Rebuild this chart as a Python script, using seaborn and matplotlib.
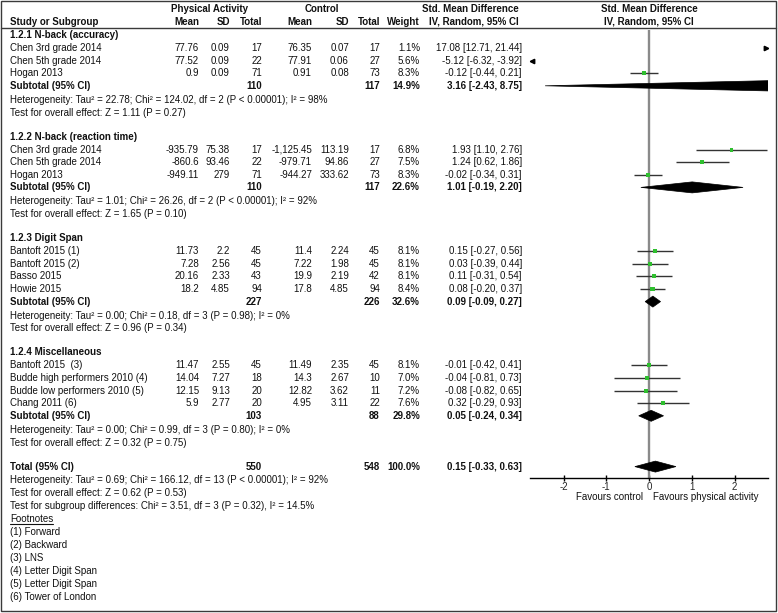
import numpy as np
import pandas as pd
import matplotlib
matplotlib.use("Agg")
import matplotlib.pyplot as plt
from matplotlib.patches import Polygon, Rectangle
import seaborn as sns

# ---------------- data ----------------
group_names = ["1.2.1 N-back (accuracy)", "1.2.2 N-back (reaction time)",
               "1.2.3 Digit Span", "1.2.4 Miscellaneous"]

study = ["Chen 3rd grade 2014", "Chen 5th grade 2014", "Hogan 2013",
         "Chen 3rd grade 2014", "Chen 5th grade 2014", "Hogan 2013",
         "Bantoft 2015 (1)", "Bantoft 2015 (2)", "Basso 2015", "Howie 2015",
         "Bantoft 2015  (3)", "Budde high performers 2010 (4)",
         "Budde low performers 2010 (5)", "Chang 2011 (6)"]
study_group = [0, 0, 0, 1, 1, 1, 2, 2, 2, 2, 3, 3, 3, 3]

pa_mean = [77.76, 77.52, 0.9, -935.79, -860.6, -949.11, 11.73, 7.28, 20.16, 18.2,
           11.47, 14.04, 12.15, 5.9]
pa_sd = [0.09, 0.09, 0.09, 75.38, 93.46, 279, 2.2, 2.56, 2.33, 4.85,
         2.55, 7.27, 9.13, 2.77]
pa_n = [17, 22, 71, 17, 22, 71, 45, 45, 43, 94, 45, 18, 20, 20]
ct_mean = [76.35, 77.91, 0.91, -1125.45, -979.71, -944.27, 11.4, 7.22, 19.9, 17.8,
           11.49, 14.3, 12.82, 4.95]
ct_sd = [0.07, 0.06, 0.08, 113.19, 94.86, 333.62, 2.24, 1.98, 2.19, 4.85,
         2.35, 2.67, 3.62, 3.11]
ct_n = [17, 27, 73, 17, 27, 73, 45, 45, 42, 94, 45, 10, 11, 22]
weight = [1.1, 5.6, 8.3, 6.8, 7.5, 8.3, 8.1, 8.1, 8.1, 8.4, 8.1, 7.0, 7.2, 7.6]
smd = [17.08, -5.12, -0.12, 1.93, 1.24, -0.02, 0.15, 0.03, 0.11, 0.08,
       -0.01, -0.04, -0.08, 0.32]
smd_lo = [12.71, -6.32, -0.44, 1.10, 0.62, -0.34, -0.27, -0.39, -0.31, -0.20,
          -0.42, -0.81, -0.82, -0.29]
smd_hi = [21.44, -3.92, 0.21, 2.76, 1.86, 0.31, 0.56, 0.44, 0.54, 0.37,
          0.41, 0.73, 0.65, 0.93]

sub_pa_n = [110, 110, 227, 103]
sub_ct_n = [117, 117, 226, 88]
sub_weight = [14.9, 22.6, 32.6, 29.8]
sub_smd = [3.16, 1.01, 0.09, 0.05]
sub_lo = [-2.43, -0.19, -0.09, -0.24]
sub_hi = [8.75, 2.20, 0.27, 0.34]
sub_het = ["Heterogeneity: Tau² = 22.78; Chi² = 124.02, df = 2 (P < 0.00001); I² = 98%",
           "Heterogeneity: Tau² = 1.01; Chi² = 26.26, df = 2 (P < 0.00001); I² = 92%",
           "Heterogeneity: Tau² = 0.00; Chi² = 0.18, df = 3 (P = 0.98); I² = 0%",
           "Heterogeneity: Tau² = 0.00; Chi² = 0.99, df = 3 (P = 0.80); I² = 0%"]
sub_z = ["Test for overall effect: Z = 1.11 (P = 0.27)",
         "Test for overall effect: Z = 1.65 (P = 0.10)",
         "Test for overall effect: Z = 0.96 (P = 0.34)",
         "Test for overall effect: Z = 0.32 (P = 0.75)"]

total_pa_n, total_ct_n = 550, 548
total_weight = 100.0
total_smd, total_lo, total_hi = 0.15, -0.33, 0.63
total_notes = ["Heterogeneity: Tau² = 0.69; Chi² = 166.12, df = 13 (P < 0.00001); I² = 92%",
               "Test for overall effect: Z = 0.62 (P = 0.53)",
               "Test for subgroup differences: Chi² = 3.51, df = 3 (P = 0.32), I² = 14.5%"]
footnotes = ["(1) Forward", "(2) Backward", "(3) LNS", "(4) Letter Digit Span",
             "(5) Letter Digit Span", "(6) Tower of London"]

x_ticks = [-2, -1, 0, 1, 2]

# ---------------- style ----------------
sns.set_style("white")
plt.rcParams["font.family"] = ["Liberation Sans", "DejaVu Sans"]
plt.rcParams["axes.unicode_minus"] = False
FS = 7.0
GREEN = "#2fbf2f"
W, H = 778, 613

fig = plt.figure(figsize=(W / 100, H / 100), dpi=100)
ax = fig.add_axes([0, 0, 1, 1])
ax.set_xlim(0, W)
ax.set_ylim(H, 0)
ax.axis("off")

# forest panel: pixel columns 530..768, rows 30..478, 42.75 px per unit
px_unit, x_zero = 42.75, 649
fx0, fx1, fy0, fy1 = 530, 768, 30, 478
fax = fig.add_axes([fx0 / W, (H - fy1) / H, (fx1 - fx0) / W, (fy1 - fy0) / H])
fax.patch.set_alpha(0)

# column anchors (right edges)
C_PM, C_PS, C_PN, C_CM, C_CS, C_CN, C_W, C_CI = 199, 230, 262, 312, 349, 380, 420, 522


def txt(x, y, s, ha="left", bold=False):
    return ax.text(x, y, s, ha=ha, va="center", fontsize=FS,
                   fontweight="bold" if bold else "normal", color="#111111")


def num(v):
    return f"{v:,}"


# border and header
ax.add_patch(Rectangle((1, 1), 775, 610, fill=False, edgecolor="#3a3a3a", lw=1.0))
ax.plot([1, 776], [27.5, 27.5], color="#3a3a3a", lw=1.0)
txt(209.7, 8.5, "Physical Activity", ha="center", bold=True)
txt(322, 8.5, "Control", ha="center", bold=True)
txt(519, 8.5, "Std. Mean Difference", ha="right", bold=True)
txt(649, 8.5, "Std. Mean Difference", ha="center", bold=True)
txt(10, 22, "Study or Subgroup", bold=True)
for xc, lab in [(C_PM, "Mean"), (C_PS, "SD"), (C_PN, "Total"), (C_CM, "Mean"),
                (C_CS, "SD"), (C_CN, "Total"), (C_W, "Weight"), (519, "IV, Random, 95% CI")]:
    txt(xc, 22, lab, ha="right", bold=True)
txt(649, 22, "IV, Random, 95% CI", ha="center", bold=True)

# ---------------- rows ----------------
study_y = [0.0] * len(study)
sub_y = []
y = 35.0
for g, gname in enumerate(group_names):
    txt(10, y, gname, bold=True)
    y += 13
    for i in [k for k, sg in enumerate(study_group) if sg == g]:
        study_y[i] = y
        txt(10, y, study[i])
        txt(C_PM, y, num(pa_mean[i]), ha="right")
        txt(C_PS, y, num(pa_sd[i]), ha="right")
        txt(C_PN, y, str(pa_n[i]), ha="right")
        txt(C_CM, y, num(ct_mean[i]), ha="right")
        txt(C_CS, y, num(ct_sd[i]), ha="right")
        txt(C_CN, y, str(ct_n[i]), ha="right")
        txt(C_W, y, f"{weight[i]:.1f}%", ha="right")
        txt(C_CI, y, f"{smd[i]:.2f} [{smd_lo[i]:.2f}, {smd_hi[i]:.2f}]", ha="right")
        y += 12.6
    sub_y.append(y)
    txt(10, y, "Subtotal (95% CI)", bold=True)
    txt(C_PN, y, str(sub_pa_n[g]), ha="right", bold=True)
    txt(C_CN, y, str(sub_ct_n[g]), ha="right", bold=True)
    txt(C_W, y, f"{sub_weight[g]:.1f}%", ha="right", bold=True)
    txt(C_CI, y, f"{sub_smd[g]:.2f} [{sub_lo[g]:.2f}, {sub_hi[g]:.2f}]", ha="right", bold=True)
    y += 14
    txt(10, y, sub_het[g])
    y += 12.8
    txt(10, y, sub_z[g])
    y += 24

total_y = y
txt(10, y, "Total (95% CI)", bold=True)
txt(C_PN, y, str(total_pa_n), ha="right", bold=True)
txt(C_CN, y, str(total_ct_n), ha="right", bold=True)
txt(C_W, y, f"{total_weight:.1f}%", ha="right", bold=True)
txt(C_CI, y, f"{total_smd:.2f} [{total_lo:.2f}, {total_hi:.2f}]", ha="right", bold=True)
for note in total_notes:
    y += 13.2
    txt(10, y, note)
y += 13.2
fn = txt(10, y, "Footnotes")
for note in footnotes:
    y += 12.9
    txt(10, y, note)

# ---------------- forest panel ----------------
xmin, xmax = (fx0 - x_zero) / px_unit, (fx1 - x_zero) / px_unit
df = pd.DataFrame({"smd": smd, "lo": smd_lo, "hi": smd_hi, "weight": weight, "y": study_y})

fax.axvline(0, color="#8a8a8a", lw=1.7, zorder=1)
fax.hlines(df["y"], df["lo"], df["hi"], color="#333333", lw=1.0, zorder=2)
sns.scatterplot(data=df, x="smd", y="y", size="weight", sizes=(5, 9), marker="s",
                color=GREEN, edgecolor="none", legend=False, ax=fax, zorder=3)

# arrows for intervals outside the axis range
for _, r in df.iterrows():
    if r["lo"] > xmax:
        fax.plot(xmax - 0.05, r["y"], marker=">", ms=3.2, color="black", clip_on=False)
    elif r["hi"] < xmin:
        fax.plot(xmin + 0.05, r["y"], marker="<", ms=3.2, color="black", clip_on=False)

dh = 5.5
for m, lo, hi, yy in zip(sub_smd + [total_smd], sub_lo + [total_lo],
                         sub_hi + [total_hi], sub_y + [total_y]):
    fax.add_patch(Polygon([(lo, yy), (m, yy - dh), (hi, yy), (m, yy + dh)],
                          closed=True, facecolor="black", edgecolor="black", lw=0.5, zorder=4))

fax.set_xlim(xmin, xmax)
fax.set_ylim(fy1, fy0)
fax.set_xlabel("")
fax.set_ylabel("")
fax.set_yticks([])
fax.set_xticks(x_ticks)
fax.set_xticklabels([str(t) for t in x_ticks])
for side in ["left", "right", "top"]:
    fax.spines[side].set_visible(False)
fax.spines["bottom"].set_color("black")
fax.spines["bottom"].set_linewidth(1.0)
fax.tick_params(axis="x", direction="inout", length=5, width=1, color="black",
                labelsize=FS, pad=0.5, bottom=True)

txt(643, 497, "Favours control", ha="right")
txt(653, 497, "Favours physical activity", ha="left")

# underline "Footnotes"
fig.canvas.draw()
bb = fn.get_window_extent()
inv = ax.transData.inverted()
(ux0, uy0), (ux1, _) = inv.transform([(bb.x0, bb.y0), (bb.x1, bb.y0)])
ax.plot([ux0, ux1], [uy0 - 0.5, uy0 - 0.5], color="#111111", lw=0.8)

fig.savefig("out.png", dpi=100)
